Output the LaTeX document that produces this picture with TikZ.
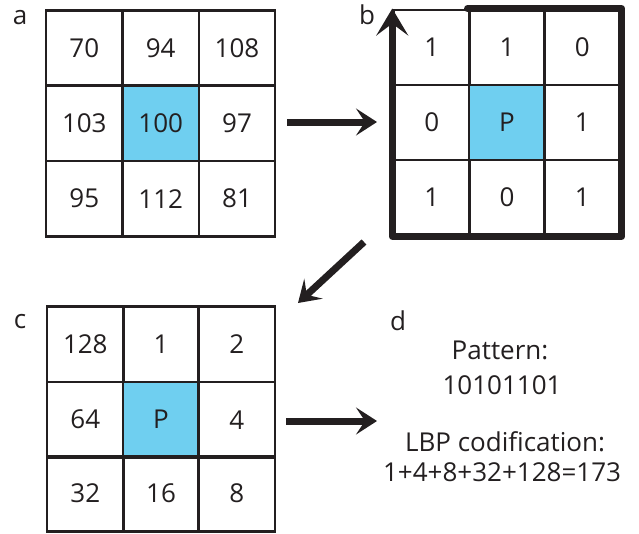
\documentclass[tikz,border=0pt]{standalone}
\usepackage{fontspec}
\setmainfont{Open Sans}
\usetikzlibrary{arrows.meta}
\definecolor{ink}{RGB}{35,31,32}
\definecolor{cellblue}{RGB}{111,207,240}
\begin{document}
\begin{tikzpicture}[x=1pt,y=-1pt,
  cell/.style={draw=ink, line width=2.6pt, minimum width=76.3pt, minimum height=75.3pt,
    inner sep=0pt, font=\fontsize{26}{31}\selectfont, text=ink},
  hot/.style={cell, fill=cellblue},
  lbl/.style={font=\fontsize{26}{31}\selectfont, text=ink, inner sep=0pt},
  bigarrow/.style={draw=ink, line width=7pt, -{Stealth[length=21pt,width=27pt,inset=9pt]}},
]
\useasboundingbox (0,0) rectangle (639,533);

% grid a
\node[cell] (a11) at (84.3,48) {70};
\node[cell] (a12) at (160.7,48) {94};
\node[cell] (a13) at (237,48) {108};
\node[cell] (a21) at (84.3,123.3) {103};
\node[hot]  (a22) at (160.7,123.3) {100};
\node[cell] (a23) at (237,123.3) {97};
\node[cell] (a31) at (84.3,198.7) {95};
\node[cell] (a32) at (160.7,198.7) {112};
\node[cell] (a33) at (237,198.7) {81};

% grid b
\begin{scope}[every node/.append style={minimum width=75.3pt, minimum height=75pt}]
\node[cell] (b11) at (431.7,47.5) {1};
\node[cell] (b12) at (507,47.5) {1};
\node[cell] (b13) at (582.3,47.5) {0};
\node[cell] (b21) at (431.7,122.5) {0};
\node[hot]  (b22) at (507,122.5) {P};
\node[cell] (b23) at (582.3,122.5) {1};
\node[cell] (b31) at (431.7,197.5) {1};
\node[cell] (b32) at (507,197.5) {0};
\node[cell] (b33) at (582.3,197.5) {1};
\end{scope}
\draw[ink, line width=7pt, line join=round, line cap=round,
  -{Stealth[length=27pt,width=32pt,inset=12pt]}]
  (b12.north west) -- (b13.north east) -- (b33.south east) -- (b31.south west) -- (b11.north west);

% grid c
\begin{scope}[every node/.append style={minimum width=75.7pt, minimum height=74.7pt}]
\node[cell] (c11) at (85.3,344.3) {128};
\node[cell] (c12) at (161,344.3) {1};
\node[cell] (c13) at (236.7,344.3) {2};
\node[cell] (c21) at (85.3,419.7) {64};
\node[hot]  (c22) at (161,419.7) {P};
\node[cell] (c23) at (236.7,419.7) {4};
\node[cell] (c31) at (85.3,493.7) {32};
\node[cell] (c32) at (161,493.7) {16};
\node[cell] (c33) at (236.7,493.7) {8};
\end{scope}

% panel labels
\node[lbl] (la) at (20,18) {a};
\node[lbl] (lb) at (367,15) {b};
\node[lbl] (lc) at (20,322) {c};
\node[lbl] (ld) at (398,321) {d};

% panel d text
\node[lbl] (pat) at (500,350) {Pattern:};
\node[lbl] (bits) at (502,385) {10101101};
\node[lbl] (lbp) at (505,442) {LBP codification:};
\node[lbl] (sum) at (502,472) {1+4+8+32+128=173};

% arrows
\coordinate (ab1) at (287,122);
\coordinate (ab2) at (377,122);
\draw[bigarrow] (ab1) -- (ab2);
\coordinate (d1s) at (364,242);
\coordinate (d1t) at (298,303);
\draw[bigarrow] (d1s) -- (d1t);
\coordinate (cd1) at (286,421);
\coordinate (cd2) at (377,421);
\draw[bigarrow] (cd1) -- (cd2);
\end{tikzpicture}
\end{document}
